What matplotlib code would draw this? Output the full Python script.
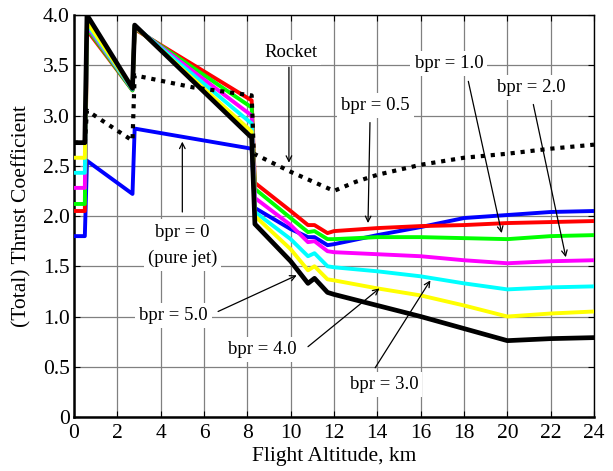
import numpy as np
import matplotlib
matplotlib.use("Agg")
import matplotlib.pyplot as plt

plt.rcParams['font.family'] = ['Liberation Serif', 'DejaVu Serif']

# altitude points (km) for the jet curves
alt = [0, 0.5, 0.6, 2.7, 2.8, 8.2, 8.35, 10.0, 10.8, 11.1, 11.7, 12, 14, 16, 18, 20, 22, 24]

bpr_0 = [1.80, 1.80, 2.55, 2.22, 2.87, 2.67, 2.08, 1.87, 1.79, 1.79, 1.71, 1.72, 1.81, 1.89, 1.98, 2.01, 2.04, 2.05]
bpr_05 = [2.05, 2.05, 3.85, 3.25, 3.86, 3.15, 2.33, 2.05, 1.91, 1.91, 1.83, 1.85, 1.88, 1.90, 1.91, 1.93, 1.94, 1.95]
bpr_1 = [2.12, 2.12, 3.87, 3.25, 3.87, 3.08, 2.27, 1.98, 1.84, 1.85, 1.77, 1.77, 1.79, 1.79, 1.78, 1.77, 1.80, 1.81]
bpr_2 = [2.28, 2.28, 3.89, 3.26, 3.88, 3.00, 2.18, 1.91, 1.74, 1.75, 1.65, 1.64, 1.62, 1.60, 1.56, 1.53, 1.55, 1.56]
bpr_3 = [2.43, 2.43, 3.91, 3.26, 3.89, 2.92, 2.04, 1.77, 1.60, 1.63, 1.50, 1.49, 1.45, 1.40, 1.33, 1.27, 1.29, 1.30]
bpr_4 = [2.58, 2.58, 3.93, 3.27, 3.89, 2.84, 2.00, 1.67, 1.46, 1.50, 1.37, 1.36, 1.28, 1.21, 1.11, 1.00, 1.03, 1.05]
bpr_5 = [2.73, 2.73, 4.00, 3.27, 3.90, 2.78, 1.92, 1.55, 1.33, 1.38, 1.24, 1.22, 1.11, 1.00, 0.88, 0.76, 0.78, 0.79]

alt_rocket = [0, 0.5, 0.6, 2.7, 2.8, 5.5, 8.2, 8.3, 10, 12, 13, 14, 16, 18, 20, 22, 24]
rocket = [2.73, 2.73, 3.05, 2.75, 3.40, 3.28, 3.20, 2.62, 2.44, 2.25, 2.34, 2.41, 2.51, 2.58, 2.62, 2.67, 2.71]

fig = plt.figure(figsize=(6.13, 4.71), dpi=100)
ax = fig.add_axes([0.1207, 0.1146, 0.8483, 0.8535])

lw = 2.8
ax.plot(alt, bpr_0, color='#0000ff', lw=lw, zorder=3)
ax.plot(alt, bpr_05, color='#ff0000', lw=lw, zorder=3)
ax.plot(alt, bpr_1, color='#00ff00', lw=lw, zorder=3)
ax.plot(alt, bpr_2, color='#ff00ff', lw=lw, zorder=3)
ax.plot(alt, bpr_3, color='#00ffff', lw=lw, zorder=3)
ax.plot(alt, bpr_4, color='#ffff00', lw=lw, zorder=3)
ax.plot(alt, bpr_5, color='black', lw=3.4, zorder=4)
ax.plot(alt_rocket, rocket, color='black', lw=3.0, linestyle=(0, (1, 1.4)), zorder=5)

ax.set_xlim(0, 24)
ax.set_ylim(0, 4)
ax.set_xticks(np.arange(0, 25, 2))
ax.set_yticks(np.arange(0, 4.01, 0.5))
ax.set_yticklabels(['0', '0.5', '1.0', '1.5', '2.0', '2.5', '3.0', '3.5', '4.0'])
ax.tick_params(direction='in', top=True, right=True, labelsize=15.5, length=4)
ax.tick_params(axis='x', pad=5)
ax.tick_params(axis='y', pad=3)
ax.grid(True, color='#808080', lw=0.9)
ax.set_axisbelow(True)
for s in ax.spines.values():
    s.set_linewidth(1.0)
ax.spines['left'].set_linewidth(1.8)
ax.spines['bottom'].set_linewidth(1.8)
ax.set_xlabel('Flight Altitude, km', fontsize=15.5, labelpad=3)
ax.set_ylabel('(Total) Thrust Coefficient', fontsize=15.5, labelpad=8)

box = dict(facecolor='white', edgecolor='none', pad=3)
arrow = dict(arrowstyle='->', color='black', lw=0.9, shrinkA=0, shrinkB=0)
fs = 13.5

notes = [
    ('Rocket', 10.0, 3.63, 9.92, 3.48, 9.92, 2.53),
    ('bpr = 0.5', 13.9, 3.10, 13.66, 2.93, 13.57, 1.93),
    ('bpr = 1.0', 17.3, 3.52, 18.2, 3.34, 19.74, 1.83),
    ('bpr = 2.0', 21.1, 3.28, 21.2, 3.11, 22.7, 1.59),
    ('bpr = 5.0', 4.6, 1.01, 6.65, 1.05, 10.28, 1.41),
    ('bpr = 4.0', 8.7, 0.67, 10.8, 0.70, 14.1, 1.28),
    ('bpr = 3.0', 14.3, 0.32, 13.9, 0.49, 16.45, 1.36),
]
for txt, tx, ty, ax0, ay0, ax1, ay1 in notes:
    ax.text(tx, ty, txt, fontsize=fs, ha='center', va='center', bbox=box, zorder=2)
    ax.annotate('', xy=(ax1, ay1), xytext=(ax0, ay0), arrowprops=arrow, zorder=6)

ax.text(5.0, 1.84, 'bpr = 0', fontsize=fs, ha='center', va='center', bbox=box, zorder=2)
ax.text(5.0, 1.58, '(pure jet)', fontsize=fs, ha='center', va='center', bbox=box, zorder=2)
ax.annotate('', xy=(5.0, 2.74), xytext=(5.0, 2.04), arrowprops=arrow, zorder=6)

fig.savefig('out.png', dpi=100)
